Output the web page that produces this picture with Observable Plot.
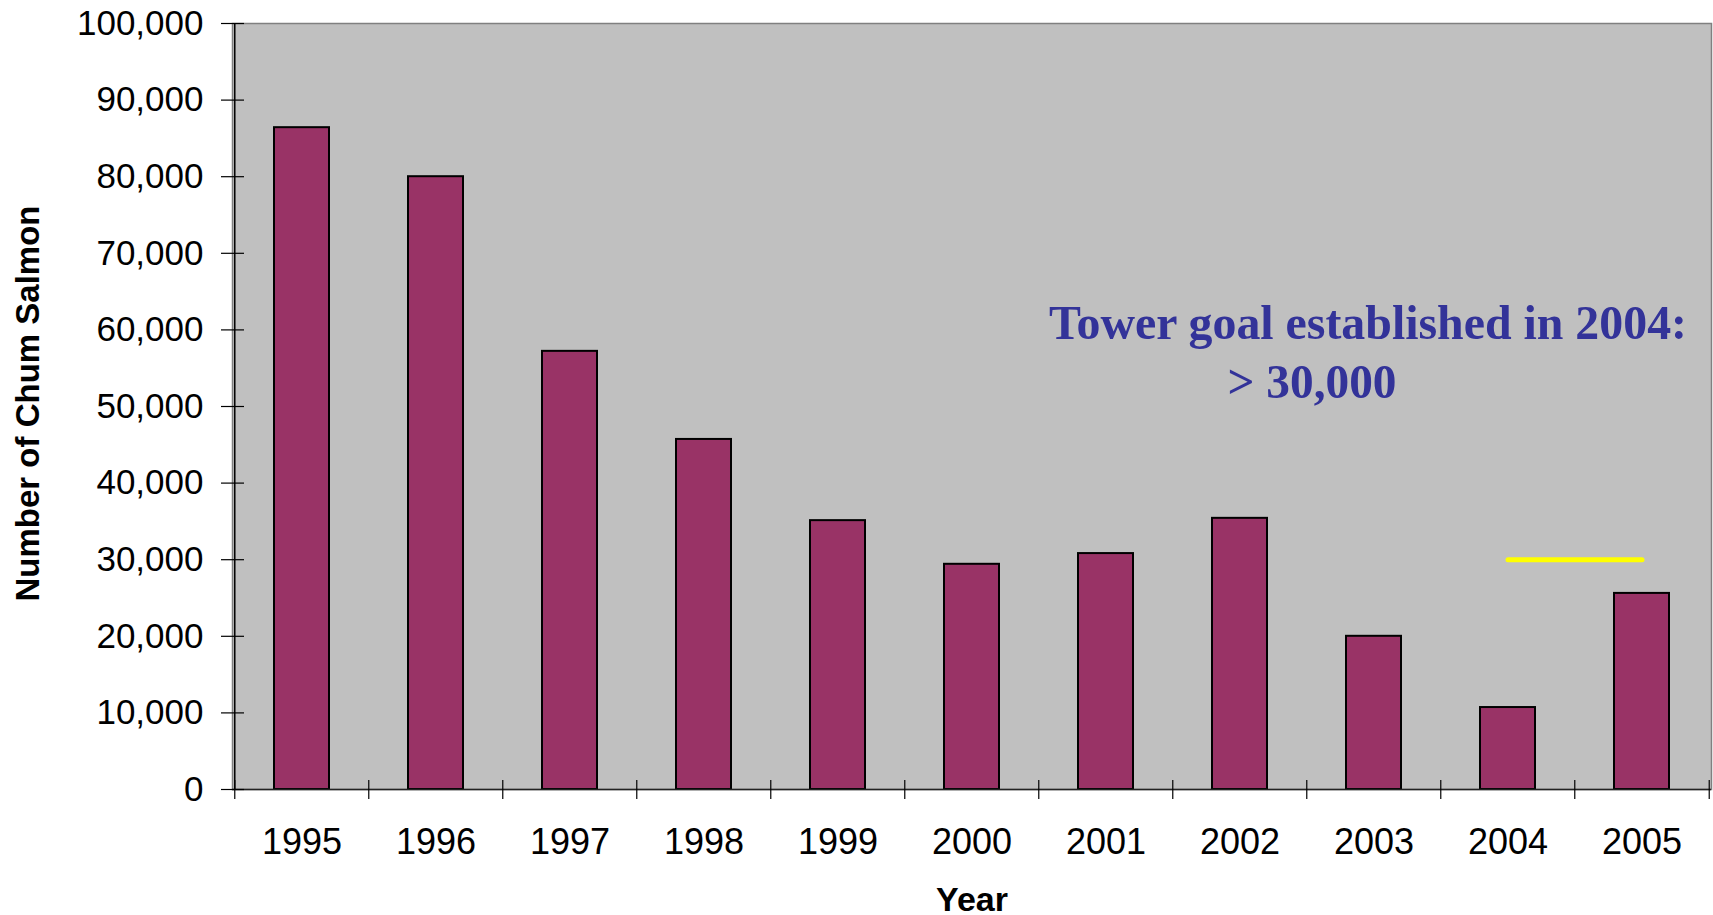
<!DOCTYPE html>
<html><head><meta charset="utf-8">
<script src="https://cdn.jsdelivr.net/npm/d3@7"></script>
<script src="https://cdn.jsdelivr.net/npm/@observablehq/plot@0.6"></script>
<style>
html,body{margin:0;padding:0;background:#fff;}
</style></head><body><div id="chart"></div>
<script>
// ---- data ----
const years = ["1995","1996","1997","1998","1999","2000","2001","2002","2003","2004","2005"];
const counts = [86400, 80000, 57200, 45700, 35100, 29400, 30800, 35400, 20000, 10700, 25600];
const yTicks = [0,10000,20000,30000,40000,50000,60000,70000,80000,90000,100000];
const goalYears = ["2004","2005"];
const goalValue = 30000;
const annotationLines = ["Tower goal established in 2004:", "> 30,000"];
const xLabel = "Year";
const yLabel = "Number of Chum Salmon";

// ---- layout ----
const W = 1713, H = 915;
const margin = {top: 23, right: 2, bottom: 126, left: 232};
const plotW = W - margin.left - margin.right;
const plotH = H - margin.top - margin.bottom;
const step = plotW / years.length;

const data = years.map((y, i) => ({year: y, count: counts[i]}));
const goal = goalYears.map(y => ({year: y, value: goalValue}));

const sans = "'Liberation Sans', Arial, Helvetica, sans-serif";
const serif = "'Liberation Serif', 'Times New Roman', serif";

const chart = Plot.plot({
  width: W,
  height: H,
  marginTop: margin.top,
  marginRight: margin.right,
  marginBottom: margin.bottom,
  marginLeft: margin.left,
  style: {fontFamily: sans, fontSize: "35px", background: "white", color: "black", overflow: "visible"},
  x: {type: "band", domain: years, paddingInner: 0.591, paddingOuter: 0.2955},
  y: {domain: [0, 100000]},
  marks: [
    Plot.frame({fill: "#c0c0c0", stroke: "#808080", strokeWidth: 1.5}),
    Plot.barY(data, {x: "year", y: "count", fill: "#993366", stroke: "black", strokeWidth: 2}),
    Plot.line(goal, {x: "year", y: "value", stroke: "#ffff00", strokeWidth: 5, strokeLinecap: "round"}),
    Plot.ruleY([0], {stroke: "#222", strokeWidth: 1.5}),
    Plot.ruleX([years[0]], {x: d => d, dx: -step / 2, stroke: "black", strokeWidth: 1.5}),
    Plot.tickX(years, {x: d => d, dx: -step / 2, insetTop: plotH - 9, insetBottom: -10, stroke: "black", strokeWidth: 1.2}),
    Plot.tickX([years[years.length - 1]], {x: d => d, dx: step / 2, insetTop: plotH - 9, insetBottom: -10, stroke: "black", strokeWidth: 1.2}),
    Plot.tickY(yTicks, {y: d => d, insetLeft: -11, insetRight: plotW - 12, stroke: "black", strokeWidth: 1.2}),
    Plot.axisY({ticks: yTicks, tickSize: 0, tickPadding: 29, tickFormat: d3.format(","), fontSize: 35, label: null}),
    Plot.axisX({tickSize: 0, tickPadding: 39, fontSize: 36, label: null}),
    Plot.text([xLabel], {text: d => d, frameAnchor: "bottom", textAnchor: "middle", lineAnchor: "middle", dy: 111, fontWeight: "bold", fontSize: 34, fill: "black"}),
    Plot.text([yLabel], {text: d => d, frameAnchor: "left", textAnchor: "middle", lineAnchor: "middle", rotate: -90, dx: -204, dy: -3, fontWeight: "bold", fontSize: 33, fill: "black"}),
    Plot.text([annotationLines[0]], {text: d => d, x: () => "2003", y: () => 60800, dx: -6, textAnchor: "middle", lineAnchor: "middle", fontFamily: serif, fontWeight: "bold", fontSize: 49, fill: "#333399"}),
    Plot.text([annotationLines[1]], {text: d => d, x: () => "2003", y: () => 53200, dx: -62, textAnchor: "middle", lineAnchor: "middle", fontFamily: serif, fontWeight: "bold", fontSize: 49, fill: "#333399"})
  ]
});

// fit the annotation lines to the widths measured on the reference
const annWidths = {[annotationLines[0]]: 638, [annotationLines[1]]: 169};
d3.select(chart).selectAll("text").each(function() {
  const t = this.textContent;
  if (annWidths[t] !== undefined && this.childElementCount === 0) {
    d3.select(this).attr("textLength", annWidths[t]).attr("lengthAdjust", "spacingAndGlyphs");
  }
});

document.getElementById("chart").appendChild(chart);
</script>
</body></html>
